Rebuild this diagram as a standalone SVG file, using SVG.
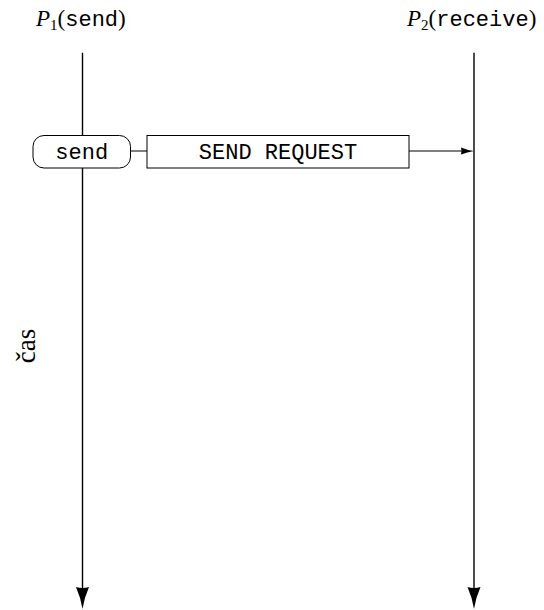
<svg xmlns="http://www.w3.org/2000/svg" width="544" height="610" viewBox="0 0 544 610">
<style>
.serif{font-family:"Liberation Serif","DejaVu Serif",serif;fill:#000}
.mono{font-family:"Liberation Mono","DejaVu Sans Mono",monospace;fill:#000}
.life{stroke:#000;stroke-width:1.4;fill:none}
.box{stroke:#000;stroke-width:1;fill:#fff}
.conn{stroke:#000;stroke-width:1;fill:none}
</style>
<defs>
<marker id="bigArrow" markerUnits="userSpaceOnUse" orient="auto" overflow="visible" refX="0" refY="0" markerWidth="30" markerHeight="20">
<path d="M19,0 Q7,-2 -3,-6.5 Q-1,0 -3,6.5 Q7,2 19,0 Z" fill="#000"/>
</marker>
<marker id="smallArrow" markerUnits="userSpaceOnUse" orient="auto" overflow="visible" refX="0" refY="0" markerWidth="20" markerHeight="10">
<path d="M11,0 Q4,-1 -2,-3.6 Q-1,0 -2,3.6 Q4,1 11,0 Z" fill="#000"/>
</marker>
</defs>
<rect width="544" height="610" fill="#fff"/>

<g id="lifeline-p1">
<text class="serif" x="36" y="25.5" font-size="23"><tspan font-style="italic">P</tspan><tspan font-size="15" dy="4">1</tspan><tspan dy="-4">(</tspan><tspan class="mono" font-size="22">send</tspan><tspan>)</tspan></text>
<line class="life" x1="82.5" y1="52.7" x2="82.5" y2="590" marker-end="url(#bigArrow)"/>
</g>

<g id="lifeline-p2">
<text class="serif" x="407" y="25.5" font-size="23"><tspan font-style="italic">P</tspan><tspan font-size="15" dy="4">2</tspan><tspan dy="-4">(</tspan><tspan class="mono" font-size="22">receive</tspan><tspan>)</tspan></text>
<line class="life" x1="474" y1="52.7" x2="474" y2="590" marker-end="url(#bigArrow)"/>
</g>

<g id="time-label">
<text class="serif" font-size="27" text-anchor="middle" transform="translate(35,346) rotate(-90)">čas</text>
</g>

<g id="connectors">
<line class="conn" x1="130.5" y1="151" x2="147" y2="151"/>
<line class="conn" x1="409" y1="151" x2="463" y2="151" marker-end="url(#smallArrow)"/>
</g>

<g id="send-node">
<rect class="box" x="33" y="135.5" width="97.5" height="32.5" rx="11" ry="11"/>
<text class="mono" x="81.75" y="159.3" font-size="22" text-anchor="middle">send</text>
</g>

<g id="send-request-node">
<rect class="box" x="147" y="135.5" width="262" height="32.5"/>
<text class="mono" x="278" y="159.3" font-size="22" text-anchor="middle">SEND REQUEST</text>
</g>
</svg>
